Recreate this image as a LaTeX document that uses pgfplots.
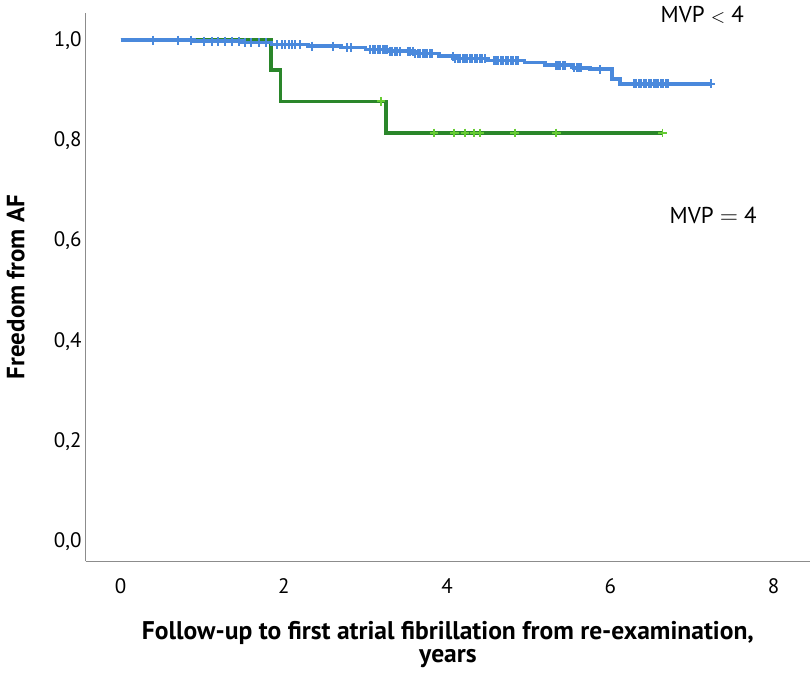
\documentclass[border=0pt]{standalone}
\usepackage{pgfplots}
\pgfplotsset{compat=1.18}
\usepackage{fontspec}
\setmainfont{PT Sans}
\definecolor{kmblue}{HTML}{4A89DC}
\definecolor{kmgreen}{HTML}{2A862A}
\definecolor{kmlight}{HTML}{66CC33}
\begin{document}
\begin{tikzpicture}
\begin{axis}[
    scale only axis,
    width=363pt, height=275pt,
    xmin=-0.428, xmax=8.45,
    ymin=-0.039, ymax=1.055,
    axis lines=left,
    axis line style={-, draw=black!45, line width=0.8pt},
    major tick length=0pt,
    xtick={0,2,4,6,8},
    ytick={0,0.2,0.4,0.6,0.8,1.0},
    yticklabel style={/pgf/number format/fixed, /pgf/number format/fixed zerofill,
        /pgf/number format/precision=1, /pgf/number format/use comma, xshift=1.5pt},
    /pgf/number format/assume math mode=true,
    ticklabel style={font=\fontsize{10.5}{12}\selectfont},
    xticklabel style={yshift=-5pt},
    xlabel={Follow-up to first atrial fibrillation from re-examination,\\years},
    xlabel style={font=\bfseries\fontsize{12.8}{11.5}\selectfont, align=center, yshift=-7pt},
    ylabel={Freedom from AF},
    ylabel style={at={([xshift=-27pt]axis description cs:0,0.5)}, anchor=south,
        rotate=0, font=\bfseries\fontsize{12.5}{14}\selectfont},
    clip=false,
]
% green group (MVP = 4)
\addplot[const plot, kmgreen, line width=1.8pt, no marks] coordinates {
    (0,1.000) (1.84,0.941) (1.96,0.878) (3.25,0.815) (6.64,0.815)
};
\addplot[only marks, mark=+, mark size=2.2pt, kmlight, line width=0.9pt] coordinates {
    (3.19,0.878) (3.84,0.815) (4.09,0.815) (4.22,0.815) (4.33,0.815)
    (4.40,0.815) (4.83,0.815) (5.34,0.815) (6.64,0.815)
};
% blue group (MVP < 4)
\addplot[const plot, kmblue, line width=1.8pt, no marks] coordinates {
    (0,1.000) (0.9,0.998) (1.5,0.995) (1.85,0.991) (2.3,0.988) (2.7,0.985)
    (3.0,0.981) (3.3,0.978) (3.6,0.973) (3.9,0.968) (4.1,0.963) (4.5,0.959)
    (4.95,0.955) (5.2,0.950) (5.55,0.945) (5.75,0.942) (6.02,0.923)
    (6.12,0.913) (7.23,0.913)
};
\addplot[only marks, mark=+, mark size=2.2pt, kmblue, line width=1pt] coordinates {
    (0.40,1.000) (0.70,1.000) (0.86,1.000) (1.02,0.998) (1.12,0.998) (1.20,0.998)
    (1.28,0.998) (1.36,0.998) (1.45,0.998) (1.52,0.995) (1.60,0.995) (1.70,0.995)
    (1.78,0.995) (1.92,0.991) (1.98,0.991) (2.02,0.991) (2.06,0.991) (2.10,0.991)
    (2.14,0.991) (2.20,0.991) (2.35,0.988) (2.60,0.988) (2.78,0.985) (2.82,0.985)
    (3.06,0.981) (3.09,0.981) (3.12,0.981) (3.15,0.981) (3.18,0.981) (3.21,0.981)
    (3.24,0.981) (3.27,0.981) (3.30,0.978) (3.33,0.978) (3.36,0.978) (3.39,0.978)
    (3.42,0.978) (3.52,0.978) (3.55,0.978) (3.58,0.978) (3.61,0.973) (3.64,0.973)
    (3.67,0.973) (3.70,0.973) (3.73,0.973) (3.76,0.973) (3.79,0.973) (3.82,0.973)
    (4.07,0.968) (4.10,0.963) (4.13,0.963) (4.16,0.963) (4.19,0.963) (4.22,0.963)
    (4.25,0.963) (4.28,0.963) (4.31,0.963) (4.34,0.963) (4.37,0.963) (4.40,0.963)
    (4.43,0.963) (4.46,0.963) (4.57,0.959) (4.60,0.959) (4.63,0.959) (4.66,0.959)
    (4.69,0.959) (4.72,0.959) (4.75,0.959) (4.78,0.959) (4.81,0.959) (4.84,0.959)
    (4.87,0.959) (5.33,0.950) (5.36,0.950) (5.39,0.950) (5.42,0.950) (5.45,0.950)
    (5.56,0.945) (5.59,0.945) (5.62,0.945) (5.64,0.945) (5.88,0.942)
    (6.29,0.913) (6.32,0.913) (6.35,0.913) (6.38,0.913) (6.41,0.913) (6.44,0.913)
    (6.47,0.913) (6.50,0.913) (6.53,0.913) (6.56,0.913) (6.59,0.913) (6.62,0.913)
    (6.65,0.913) (6.68,0.913) (6.71,0.913) (7.23,0.913)
};
\node[font=\fontsize{11.5}{13}\selectfont] at (rel axis cs:0.851,0.995) {MVP {\small$<$} 4};
\node[font=\fontsize{11.5}{13}\selectfont] at (rel axis cs:0.866,0.631) {MVP $=$ 4};
% a little white room above the axis
\path ([yshift=5pt]rel axis cs:0,1) -- ([yshift=5pt]rel axis cs:1,1);
\end{axis}
\end{tikzpicture}
\end{document}
